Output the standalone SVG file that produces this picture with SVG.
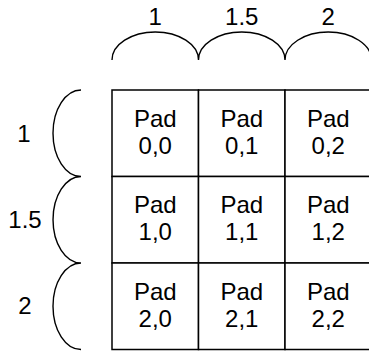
<svg xmlns="http://www.w3.org/2000/svg" width="369" height="351" viewBox="0 0 369 351">
  <style>
    .cell { fill: #ffffff; stroke: #000000; stroke-width: 1.5; }
    .brace { fill: none; stroke: #000000; stroke-width: 1.4; }
    text { font-family: "Liberation Sans", Arial, sans-serif; font-size: 24px; fill: #000000; text-anchor: middle; }
  </style>
  <rect width="369" height="351" fill="#ffffff"/>

  <!-- column size braces -->
  <g id="col-braces">
    <path class="brace" d="M112 60 A43.25 28 0 0 1 198.5 60 A43.25 28 0 0 1 285 60 A43.25 28 0 0 1 371.5 60"/>
    <text x="155.25" y="25">1</text>
    <text x="241.75" y="25">1.5</text>
    <text x="328.25" y="25">2</text>
  </g>

  <!-- row size braces -->
  <g id="row-braces">
    <path class="brace" d="M81 90 A28 43.25 0 0 0 81 176.5 A28 43.25 0 0 0 81 263 A28 43.25 0 0 0 81 349.5"/>
    <text x="24" y="141.5">1</text>
    <text x="25" y="227.5">1.5</text>
    <text x="25" y="313.5">2</text>
  </g>

  <!-- pad grid -->
  <g id="pad-0-0"><rect class="cell" x="112" y="90" width="86.5" height="86.5"/><text x="155.25" y="126.5">Pad</text><text x="155.25" y="153.5">0,0</text></g>
  <g id="pad-0-1"><rect class="cell" x="198.5" y="90" width="86.5" height="86.5"/><text x="241.75" y="126.5">Pad</text><text x="241.75" y="153.5">0,1</text></g>
  <g id="pad-0-2"><rect class="cell" x="285" y="90" width="86.5" height="86.5"/><text x="328.25" y="126.5">Pad</text><text x="328.25" y="153.5">0,2</text></g>
  <g id="pad-1-0"><rect class="cell" x="112" y="176.5" width="86.5" height="86.5"/><text x="155.25" y="213">Pad</text><text x="155.25" y="240">1,0</text></g>
  <g id="pad-1-1"><rect class="cell" x="198.5" y="176.5" width="86.5" height="86.5"/><text x="241.75" y="213">Pad</text><text x="241.75" y="240">1,1</text></g>
  <g id="pad-1-2"><rect class="cell" x="285" y="176.5" width="86.5" height="86.5"/><text x="328.25" y="213">Pad</text><text x="328.25" y="240">1,2</text></g>
  <g id="pad-2-0"><rect class="cell" x="112" y="263" width="86.5" height="86.5"/><text x="155.25" y="299.5">Pad</text><text x="155.25" y="326.5">2,0</text></g>
  <g id="pad-2-1"><rect class="cell" x="198.5" y="263" width="86.5" height="86.5"/><text x="241.75" y="299.5">Pad</text><text x="241.75" y="326.5">2,1</text></g>
  <g id="pad-2-2"><rect class="cell" x="285" y="263" width="86.5" height="86.5"/><text x="328.25" y="299.5">Pad</text><text x="328.25" y="326.5">2,2</text></g>

  <g id="connectors"></g>
</svg>
